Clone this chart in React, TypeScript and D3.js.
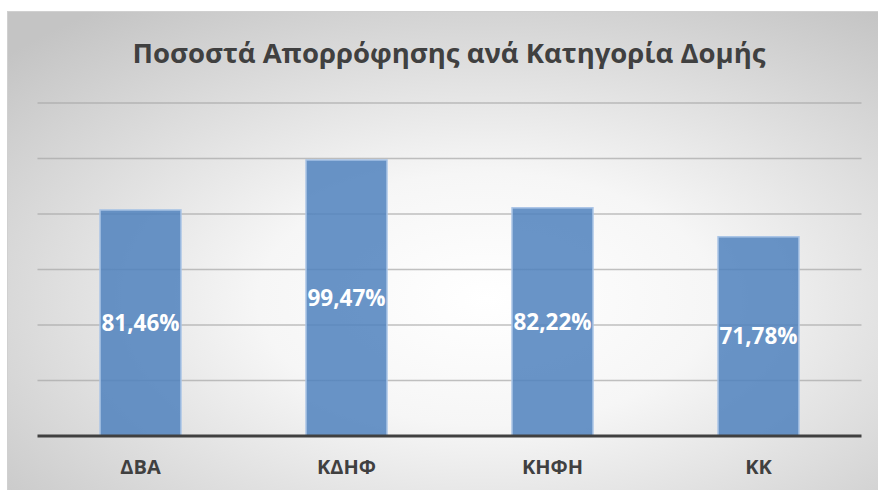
import React from "react";
import * as d3 from "d3";

const categories = ["ΔΒΑ", "ΚΔΗΦ", "ΚΗΦΗ", "ΚΚ"];
const values = [81.46, 99.47, 82.22, 71.78];
const yTicks = [0, 20, 40, 60, 80, 100, 120];
const title = "Ποσοστά Απορρόφησης ανά Κατηγορία Δομής";

const W = 878;
const H = 490;
const plot = { left: 37.5, right: 861.5, top: 103, bottom: 436 };

export default function App() {
  const x = d3
    .scaleBand<string>()
    .domain(categories)
    .range([plot.left, plot.right])
    .paddingInner(0.607)
    .paddingOuter(0.3035);

  const y = d3.scaleLinear().domain([0, 120]).range([plot.bottom, plot.top]);
  const fmt = (v: number) => v.toFixed(2).replace(".", ",") + "%";

  return (
    <svg
      width={W}
      height={H}
      style={{ position: "absolute", left: 0, top: 0 }}
      fontFamily="'Open Sans', 'Noto Sans', sans-serif"
    >
      <defs>
        <radialGradient id="bg" cx="0.55" cy="0.6" r="0.75">
          <stop offset="0" stopColor="#ffffff" />
          <stop offset="0.35" stopColor="#f6f6f6" />
          <stop offset="1" stopColor="#c4c4c4" />
        </radialGradient>
      </defs>
      <rect x={7.5} y={11.5} width={W - 7} height={H - 11} fill="url(#bg)" stroke="#d0d0d0" />

      <text
        x={449}
        y={63}
        textAnchor="middle"
        fontSize={27.5}
        fontWeight="bold"
        fill="#404040"
      >
        {title}
      </text>

      {/* gridlines */}
      {yTicks.slice(1).map((t) => (
        <line
          key={t}
          x1={plot.left}
          x2={plot.right}
          y1={y(t)}
          y2={y(t)}
          stroke="#a6a6a6"
          strokeOpacity={0.7}
          strokeWidth={1.5}
        />
      ))}

      {/* bars */}
      {categories.map((c, i) => (
        <rect
          key={c}
          x={x(c)}
          y={y(values[i])}
          width={x.bandwidth()}
          height={y(0) - y(values[i])}
          fill="#4f81bd"
          fillOpacity={0.85}
          stroke="#a9c4e6"
          strokeWidth={1.5}
        />
      ))}

      {/* baseline */}
      <line
        x1={plot.left}
        x2={plot.right}
        y1={y(0)}
        y2={y(0)}
        stroke="#404040"
        strokeWidth={3}
      />

      {/* value labels */}
      {categories.map((c, i) => (
        <text
          key={c}
          x={(x(c) as number) + x.bandwidth() / 2}
          y={(y(values[i]) + y(0)) / 2}
          dy="0.35em"
          textAnchor="middle"
          fontSize={22.5}
          fontWeight="bold"
          fill="#ffffff"
        >
          {fmt(values[i])}
        </text>
      ))}

      {/* category labels */}
      {categories.map((c) => (
        <text
          key={c}
          x={(x(c) as number) + x.bandwidth() / 2}
          y={467}
          dy="0.35em"
          textAnchor="middle"
          fontSize={20}
          fontWeight="bold"
          fill="#404040"
        >
          {c}
        </text>
      ))}
    </svg>
  );
}
